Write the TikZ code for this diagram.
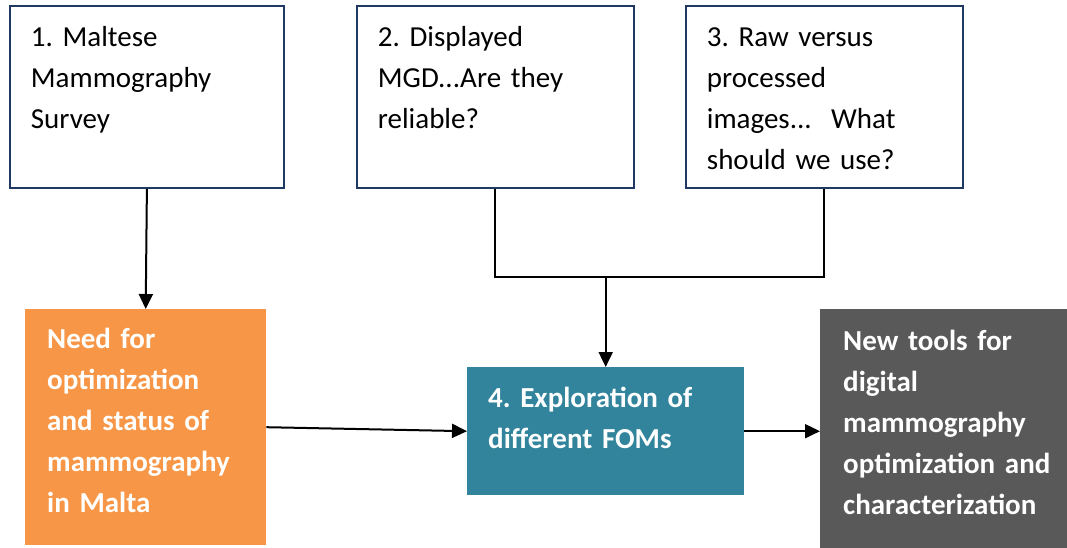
\documentclass[tikz,border=0pt]{standalone}
\usepackage{fontspec}
\setmainfont{Carlito}
\frenchspacing
\usetikzlibrary{arrows.meta,positioning,calc}
\definecolor{boxline}{HTML}{1F3864}
\definecolor{needorange}{HTML}{F79646}
\definecolor{fomteal}{HTML}{31849B}
\definecolor{toolgray}{HTML}{595959}
\begin{document}
\begin{tikzpicture}[x=1pt,y=-1pt]

\tikzstyle{question} = [draw=boxline, line width=1.8pt, anchor=north west, align=left, inner ysep=0pt, inner xsep=21pt, font=\fontsize{29}{41}\selectfont, text height=41pt, text depth=141pt]
\tikzstyle{stage} = [anchor=north west, align=left, inner ysep=0pt, text=white, font=\fontsize{29}{41}\selectfont\bfseries]
\tikzstyle{arr} = [line width=2pt, -{Triangle[length=15pt,width=14pt]}]

\useasboundingbox (0,0) rectangle (1067,548);

% three questions
\node[question, text width=232pt] (survey) at (9,5) {1. Maltese\\Mammography\\Survey};
\node[question, text width=235pt] (mgd) at (356,5) {2. Displayed\\MGD...Are they\\reliable?};
\node[question, text width=235pt] (raw) at (685,5) {3. Raw versus\\processed\\images...\ \ What\\should we use?};

% stages
\node[stage, fill=needorange, inner xsep=22pt, text width=197pt, text height=39pt, text depth=197pt] (need) at (25,309) {Need for\\optimization\\and status of\\mammography\\in Malta};
\node[stage, fill=fomteal, inner xsep=21pt, text width=235pt, text height=40pt, text depth=88pt] (fom) at (467,367) {4. Exploration of\\different FOMs};
\node[stage, fill=toolgray, inner xsep=23pt, text width=201pt, text height=41pt, text depth=198pt] (tools) at (820,309) {New tools for\\digital\\mammography\\optimization~and\\characterization};

\coordinate (split) at (fom.north |- 0,277);

\draw[arr] (survey.south) -- (need.north);
\draw[line width=2pt] (mgd.south) |- (split) -| (raw.south);
\draw[arr] (split) -- (fom.north);
\draw[arr] (need.east) -- (fom.west);
\draw[arr] (fom.east) -- (fom.east -| tools.west);

\end{tikzpicture}
\end{document}
